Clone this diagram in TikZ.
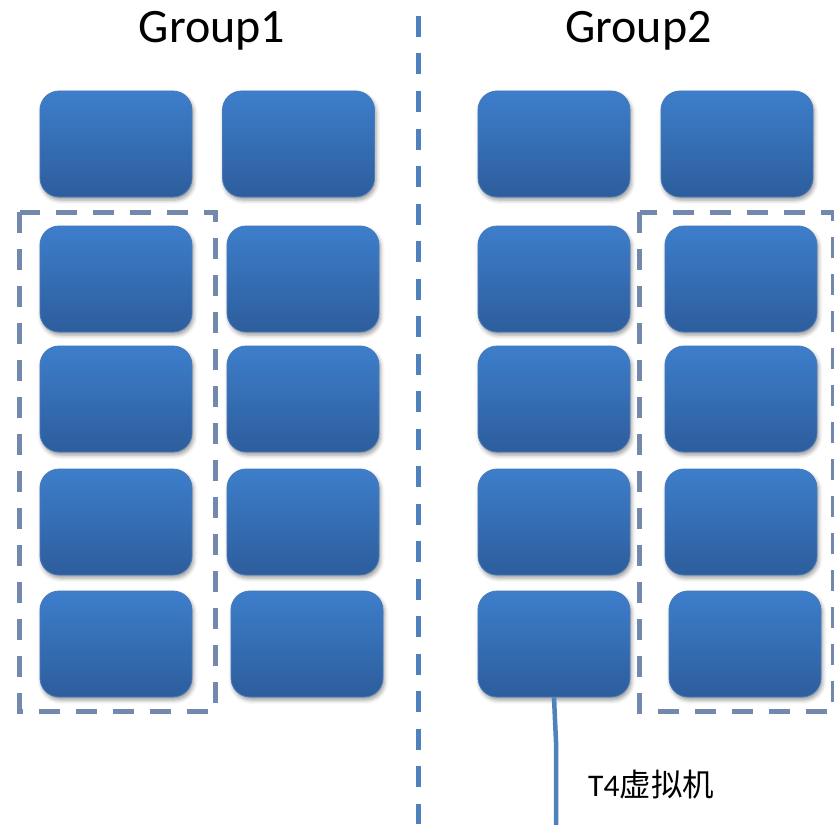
\documentclass[tikz,border=0pt]{standalone}
\usepackage{fontspec}
\setmainfont{Carlito}
\newfontfamily\cjk{Noto Sans CJK SC}
\usetikzlibrary{shadows.blur}
\definecolor{boxtop}{RGB}{61,126,203}
\definecolor{boxbot}{RGB}{45,93,156}
\definecolor{boxedge}{RGB}{72,122,186}
\definecolor{framec}{RGB}{114,137,173}
\definecolor{divc}{RGB}{79,129,189}
\begin{document}
\begin{tikzpicture}[x=1pt,y=-1pt,
  vm/.style={rectangle, rounded corners=19pt, minimum width=152pt, minimum height=106pt,
    inner sep=0pt, top color=boxtop, bottom color=boxbot, draw=boxedge, line width=0.8pt,
    blur shadow={shadow xshift=1.5pt, shadow yshift=-3pt, shadow blur radius=4pt, shadow opacity=40}},
  grpframe/.style={draw=framec, line width=5pt, dash pattern=on 21pt off 16pt},
  divider/.style={draw=divc, line width=5pt, dash pattern=on 21pt off 16.5pt},
  title/.style={anchor=base, font=\fontsize{48}{52}\selectfont, inner sep=0pt},
  conn/.style={draw=divc, line width=4.5pt},
  lbl/.style={anchor=base west, font=\fontsize{31.5}{34}\selectfont, inner sep=0pt}]
\useasboundingbox (0,0) rectangle (834,824);

% titles
\node[title] (t1) at (212,43) {Group1};
\node[title] (t2) at (638.5,43) {Group2};

% divider
\coordinate (dtop) at (418.5,16);
\coordinate (dbot) at (418.5,824);
\draw[divider] (dtop) -- (dbot);

% group frames
\draw[grpframe] (19.5,212) rectangle (215,711);
\draw[grpframe] (639.5,212) rectangle (833,711.5);

% group 1
\node[vm] (a1) at (116,144) {};
\node[vm] (a2) at (116,279) {};
\node[vm] (a3) at (116,399) {};
\node[vm] (a4) at (116,522) {};
\node[vm] (a5) at (116,644) {};
\node[vm] (b1) at (298.5,144) {};
\node[vm] (b2) at (303,279) {};
\node[vm] (b3) at (303,399) {};
\node[vm] (b4) at (303,522) {};
\node[vm] (b5) at (307,644) {};

% group 2
\node[vm] (c1) at (554,144) {};
\node[vm] (c2) at (554,279) {};
\node[vm] (c3) at (554,399) {};
\node[vm] (c4) at (554,522) {};
\node[vm] (c5) at (554,644) {};
\node[vm] (d1) at (737,144) {};
\node[vm] (d2) at (741,279) {};
\node[vm] (d3) at (741,399) {};
\node[vm] (d4) at (741,522) {};
\node[vm] (d5) at (745,644) {};

% T4 connector and label
\coordinate (bend) at (556,742);
\coordinate (lend) at (556,826);
\draw[conn] (c5.south) -- (bend) -- (lend);
\node[lbl] (t4) at (588,796) {T4{\cjk 虚拟机}};
\end{tikzpicture}
\end{document}
